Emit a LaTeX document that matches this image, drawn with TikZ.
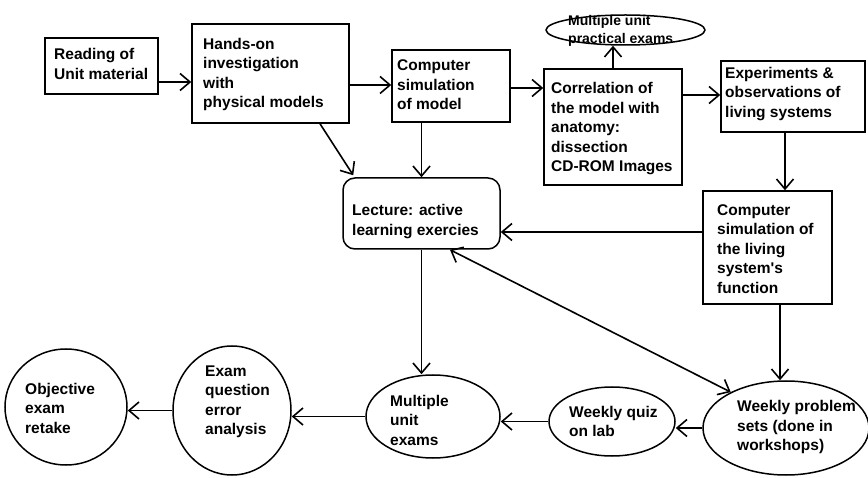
\documentclass[tikz,border=0pt]{standalone}
\usepackage{fontspec}
\setmainfont{Liberation Sans}
\usetikzlibrary{shapes.geometric,arrows.meta}
\newcommand\flowfont{\fontsize{15.5}{19.5}\selectfont\bfseries}
\newcommand\smallflowfont{\fontsize{14}{18}\selectfont\bfseries}

\begin{document}
\begin{tikzpicture}[x=1pt,y=-1pt,
  frame/.style={draw, rectangle, line width=1.5pt, inner sep=0pt},
  roundframe/.style={frame, rounded corners=12pt},
  oval/.style={draw, ellipse, line width=1.5pt, inner sep=0pt},
  lbl/.style={align=left, font=\flowfont, inner sep=0pt, anchor=west},
  tip/.tip={Straight Barb[length=10pt,width=17pt,line width=1.6pt]},
  arr/.style={line width=1.6pt, -tip},
  dblarr/.style={line width=1.6pt, tip-tip}]
\useasboundingbox (0,0) rectangle (868,478);

% --- top row of boxes ---
\node[frame, minimum width=113pt, minimum height=56pt] (read) at (101.5,66) {};
\node[lbl] (readt) at (54,64) {Reading of\\Unit material};

\node[frame, minimum width=157pt, minimum height=99pt] (hands) at (270.5,73.5) {};
\node[lbl] (handst) at (203,74.5) {Hands-on\\investigation\\with\\physical models};

\node[frame, minimum width=118pt, minimum height=72pt] (csim) at (451,86) {};
\node[lbl] (csimt) at (397,85) {Computer\\simulation\\of model};

\node[frame, minimum width=138pt, minimum height=116pt] (corr) at (613,127) {};
\node[lbl] (corrt) at (551,129) {Correlation of\\the model with\\anatomy:\\dissection\\CD-ROM Images};

\node[oval, minimum width=159pt, minimum height=30pt] (mupe) at (625.5,30) {};
\node[lbl, font=\smallflowfont] (mupet) at (568,31) {Multiple unit\\practical exams};

\node[frame, minimum width=144pt, minimum height=71pt] (expt) at (793,96.5) {};
\node[lbl] (exptt) at (725,94) {Experiments \&\\observations of\\living systems};

% --- middle row ---
\node[roundframe, minimum width=157pt, minimum height=71pt] (lect) at (421.5,213.5) {};
\node[lbl] (lectt) at (352,221.5) {Lecture: active\\learning exercies};

\node[frame, minimum width=129pt, minimum height=113pt] (csl) at (767.5,247.5) {};
\node[lbl] (cslt) at (717,249) {Computer\\simulation of\\the living\\system\textquotesingle s\\function};

% --- bottom row of ovals ---
\node[oval, minimum width=166pt, minimum height=94pt] (wps) at (786,428) {};
\node[lbl] (wpst) at (737,427) {Weekly problem\\sets (done in\\workshops)};

\node[oval, minimum width=126pt, minimum height=69pt] (quiz) at (612,421.5) {};
\node[lbl] (quizt) at (569,421.5) {Weekly quiz\\on lab};

\node[oval, minimum width=134pt, minimum height=83pt] (mue) at (433,416.5) {};
\node[lbl] (muet) at (390,420) {Multiple\\unit\\exams};

\node[oval, minimum width=118pt, minimum height=129pt] (eqa) at (232,410.5) {};
\node[lbl] (eqat) at (205,402) {Exam\\question\\error\\analysis};

\node[oval, minimum width=122pt, minimum height=116pt] (obj) at (66,407) {};
\node[lbl] (objt) at (25,408) {Objective\\exam\\retake};

% --- connectors ---
\draw[arr] ([yshift=-16pt]read.east) -- ([yshift=-16pt]read.east -| hands.west);
\draw[arr] ([yshift=-11.5pt]hands.east) -- ([yshift=-11.5pt]hands.east -| csim.west);
\draw[arr] ([yshift=-2pt]csim.east) -- ([yshift=-2pt]csim.east -| corr.west);
\draw[arr] ([yshift=32pt]corr.east) -- ([yshift=32pt]corr.east -| expt.west);
\draw[arr] (corr.north) -- (corr.north |- mupe.south);
\draw[arr] ([xshift=-8pt]expt.south) -- ([xshift=-8pt]expt.south |- csl.north);
\draw[arr] ([xshift=49.5pt]hands.south) -- ([xshift=11pt,yshift=2pt]lect.north west);
\draw[arr] (lect.north |- csim.south) -- (lect.north);
\draw[arr] ([yshift=15.5pt]csl.west) -- ([yshift=15.5pt]csl.west -| lect.east);
\draw[dblarr] ([xshift=28.5pt]lect.south) -- (wps.147);
\draw[arr] (lect.south) -- (lect.south |- mue.north);
\draw[arr] ([xshift=12.5pt]csl.south) -- ([xshift=12.5pt]csl.south |- wps.north);
\draw[arr] (wps.west) -- (wps.west -| quiz.east);
\draw[arr] (quiz.west) -- (quiz.west -| mue.east);
\draw[arr] (mue.west) -- (mue.west -| eqa.east);
\draw[arr] (eqa.west) -- (eqa.west -| obj.east);
\end{tikzpicture}
\end{document}
